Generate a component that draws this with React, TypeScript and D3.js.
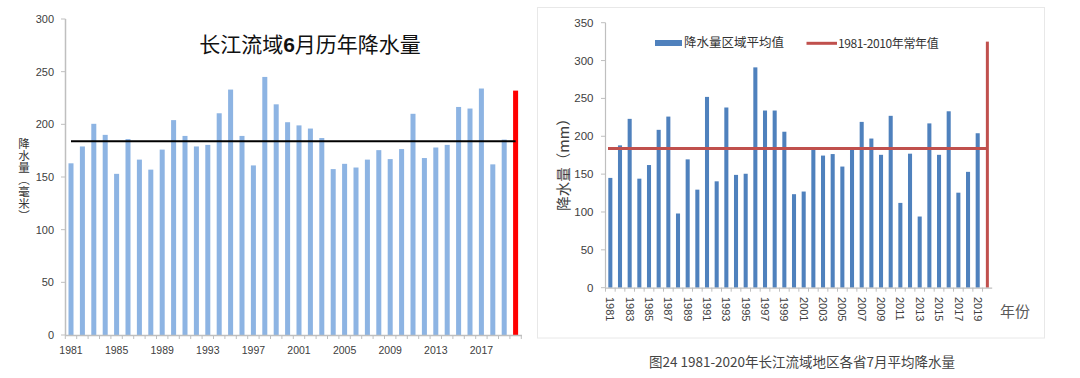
import React from "react";
import * as d3 from "d3";

// ---------- Left chart data (June) ----------
const yearsL: number[] = d3.range(1981, 2021);
const juneValues: number[] = [
  163, 179, 200.5, 190, 153, 186, 166.5, 157, 176, 204,
  189, 179, 180.5, 210.5, 233, 189, 161, 245, 219, 202,
  199, 196, 187, 157.5, 162.5, 159, 166.5, 175.5, 167, 176.5,
  210, 168, 178, 180.5, 216.5, 215, 234, 162, 185.5, 232,
];
const juneNormal = 184;
const leftYTicks: number[] = [0, 50, 100, 150, 200, 250, 300];
const leftXLabels: number[] = [1981, 1985, 1989, 1993, 1997, 2001, 2005, 2009, 2013, 2017];
const leftTitle = ["长江流域", "6", "月历年降水量"];
const leftYTitle = "降水量（毫米）";

// ---------- Right chart data (July) ----------
const yearsR: number[] = d3.range(1981, 2021);
const julyValues: number[] = [
  145, 188, 223, 144, 162, 208.5, 226, 98, 169.5, 129.5,
  252, 140.5, 238, 149, 150.5, 291, 234, 234, 206, 123.5,
  127, 182, 174.5, 176.5, 160, 182, 219, 197, 175.5, 227,
  112, 177, 94, 217, 175.5, 233, 125.5, 153, 204, 325,
];
const julyNormal = 184;
const rightYTicks: number[] = [0, 50, 100, 150, 200, 250, 300, 350];
const rightXLabels: number[] = d3.range(1981, 2021, 2);
const rightYTitle = "降水量（mm）";
const legendBar = "降水量区域平均值";
const legendLine = "1981-2010年常年值";
const rightXTitle = "年份";
const caption = "图24 1981-2020年长江流域地区各省7月平均降水量";

const FONT = "'Liberation Sans', 'Noto Sans CJK SC', sans-serif";
const CJK = "'Noto Sans CJK SC', 'Liberation Sans', sans-serif";

export default function App() {
  // Left scales
  const xL = d3
    .scaleBand<number>()
    .domain(yearsL)
    .range([65.3, 521.3])
    .paddingInner(0.56)
    .paddingOuter(0.28);
  const yL = d3.scaleLinear().domain([0, 300]).range([335, 19]);
  const cxL = (yr: number) => (xL(yr) as number) + xL.bandwidth() / 2;
  const stepL = xL.step();

  // Right scales
  const xR = d3
    .scaleBand<number>()
    .domain(yearsR)
    .range([605.5, 992.2])
    .paddingInner(0.58)
    .paddingOuter(0.29);
  const yR = d3.scaleLinear().domain([0, 350]).range([287.7, 22.7]);
  const cxR = (yr: number) => (xR(yr) as number) + xR.bandwidth() / 2;
  const stepR = xR.step();

  const lastL = yearsL[yearsL.length - 1];
  const lastR = yearsR[yearsR.length - 1];

  return (
    <svg
      width={1080}
      height={378}
      style={{ position: "absolute", left: 0, top: 0, background: "#fff" }}
    >
      {/* ================= LEFT CHART ================= */}
      <g>
        {/* title */}
        <text
          x={310}
          y={52}
          textAnchor="middle"
          fontFamily={CJK}
          fontSize={21}
          fill="#111"
        >
          <tspan>{leftTitle[0]}</tspan>
          <tspan fontWeight="bold" fontFamily={FONT}>{leftTitle[1]}</tspan>
          <tspan>{leftTitle[2]}</tspan>
        </text>

        {/* y axis title (vertical) */}
        <text
          x={24}
          y={138}
          fontFamily={CJK}
          fontSize={11.5}
          letterSpacing={0.4}
          fill="#333"
          style={{ writingMode: "vertical-rl" } as any}
        >
          {leftYTitle}
        </text>

        {/* y axis */}
        <line x1={65.5} x2={65.5} y1={yL(300)} y2={yL(0)} stroke="#bfbfbf" strokeWidth={1.5} />
        {leftYTicks.map((t) => (
          <g key={"lyt" + t}>
            <line x1={61} x2={65.5} y1={yL(t)} y2={yL(t)} stroke="#bfbfbf" strokeWidth={1} />
            <text
              x={54}
              y={yL(t)}
              dy="0.35em"
              textAnchor="end"
              fontFamily={FONT}
              fontSize={11}
              fill="#404040"
            >
              {t}
            </text>
          </g>
        ))}

        {/* bars */}
        {yearsL.map((yr, i) => (
          <rect
            key={"lb" + yr}
            x={xL(yr)}
            y={yL(juneValues[i])}
            width={xL.bandwidth()}
            height={yL(0) - yL(juneValues[i])}
            fill={yr === lastL ? "#ff0000" : "#8db4e3"}
          />
        ))}

        {/* x axis */}
        <line x1={65.3} x2={522} y1={yL(0) + 0.5} y2={yL(0) + 0.5} stroke="#bfbfbf" strokeWidth={1.5} />
        {yearsL.map((yr) => (
          <line
            key={"lxt" + yr}
            x1={(xL(yr) as number) - (stepL - xL.bandwidth()) / 2}
            x2={(xL(yr) as number) - (stepL - xL.bandwidth()) / 2}
            y1={yL(0)}
            y2={yL(0) + 4}
            stroke="#bfbfbf"
            strokeWidth={1}
          />
        ))}
        <line x1={521.3} x2={521.3} y1={yL(0)} y2={yL(0) + 4} stroke="#bfbfbf" strokeWidth={1} />
        {leftXLabels.map((yr) => (
          <text
            key={"lxl" + yr}
            x={cxL(yr)}
            y={350}
            dy="0.35em"
            textAnchor="middle"
            fontFamily={FONT}
            fontSize={10.5}
            fill="#404040"
          >
            {yr}
          </text>
        ))}

        {/* normal line */}
        <line
          x1={cxL(yearsL[0])}
          x2={cxL(lastL)}
          y1={yL(juneNormal)}
          y2={yL(juneNormal)}
          stroke="#000"
          strokeWidth={2}
        />
      </g>

      {/* ================= RIGHT CHART ================= */}
      <g>
        <rect x={537.5} y={7.5} width={507} height={330.5} fill="none" stroke="#e8e8e8" strokeWidth={1} />

        {/* legend */}
        <rect x={655} y={40} width={27} height={6} fill="#4f81bd" />
        <text x={684} y={43} dy="0.35em" fontFamily={CJK} fontSize={12.5} fill="#333">
          {legendBar}
        </text>
        <line x1={806.5} x2={837} y1={43.3} y2={43.3} stroke="#c0504d" strokeWidth={3} />
        <text x={838} y={43.3} dy="0.35em" fontFamily={CJK} fontSize={12} fill="#333" letterSpacing={-0.4}>
          {legendLine}
        </text>

        {/* y axis title */}
        <text
          transform={`translate(564,161) rotate(-90)`}
          textAnchor="middle"
          dy="0.35em"
          fontFamily={CJK}
          fontSize={14.5}
          fill="#404040"
        >
          {rightYTitle}
        </text>

        {/* y axis */}
        <line x1={605.5} x2={605.5} y1={yR(350)} y2={yR(0)} stroke="#bfbfbf" strokeWidth={1.2} />
        {rightYTicks.map((t) => (
          <g key={"ryt" + t}>
            <line x1={601} x2={605.5} y1={yR(t)} y2={yR(t)} stroke="#bfbfbf" strokeWidth={1} />
            <text
              x={593.5}
              y={yR(t)}
              dy="0.35em"
              textAnchor="end"
              fontFamily={FONT}
              fontSize={11.5}
              fill="#404040"
            >
              {t}
            </text>
          </g>
        ))}

        {/* bars */}
        {yearsR.map((yr, i) => {
          const last = yr === lastR;
          const w = last ? 3 : xR.bandwidth();
          return (
            <rect
              key={"rb" + yr}
              x={cxR(yr) - w / 2}
              y={yR(julyValues[i])}
              width={w}
              height={yR(0) - yR(julyValues[i])}
              fill={last ? "#c0504d" : "#4f81bd"}
            />
          );
        })}

        {/* x axis */}
        <line x1={605.5} x2={992.2} y1={yR(0) + 0.5} y2={yR(0) + 0.5} stroke="#bfbfbf" strokeWidth={1.2} />
        {yearsR.map((yr) => (
          <line
            key={"rxt" + yr}
            x1={(xR(yr) as number) - (stepR - xR.bandwidth()) / 2}
            x2={(xR(yr) as number) - (stepR - xR.bandwidth()) / 2}
            y1={yR(0)}
            y2={yR(0) + 4}
            stroke="#bfbfbf"
            strokeWidth={1}
          />
        ))}
        {rightXLabels.map((yr) => (
          <text
            key={"rxl" + yr}
            transform={`translate(${cxR(yr)},${297}) rotate(90)`}
            dy="0.35em"
            textAnchor="start"
            fontFamily={FONT}
            fontSize={11}
            fill="#404040"
          >
            {yr}
          </text>
        ))}
        <text x={1000} y={312} dy="0.35em" fontFamily={CJK} fontSize={15} fill="#595959">
          {rightXTitle}
        </text>

        {/* normal line */}
        <line
          x1={608}
          x2={cxR(lastR)}
          y1={yR(julyNormal)}
          y2={yR(julyNormal)}
          stroke="#c0504d"
          strokeWidth={3}
        />

        {/* caption */}
        <text x={802} y={362} dy="0.35em" textAnchor="middle" fontFamily={CJK} fontSize={13.5} fill="#444">
          {caption}
        </text>
      </g>
    </svg>
  );
}
